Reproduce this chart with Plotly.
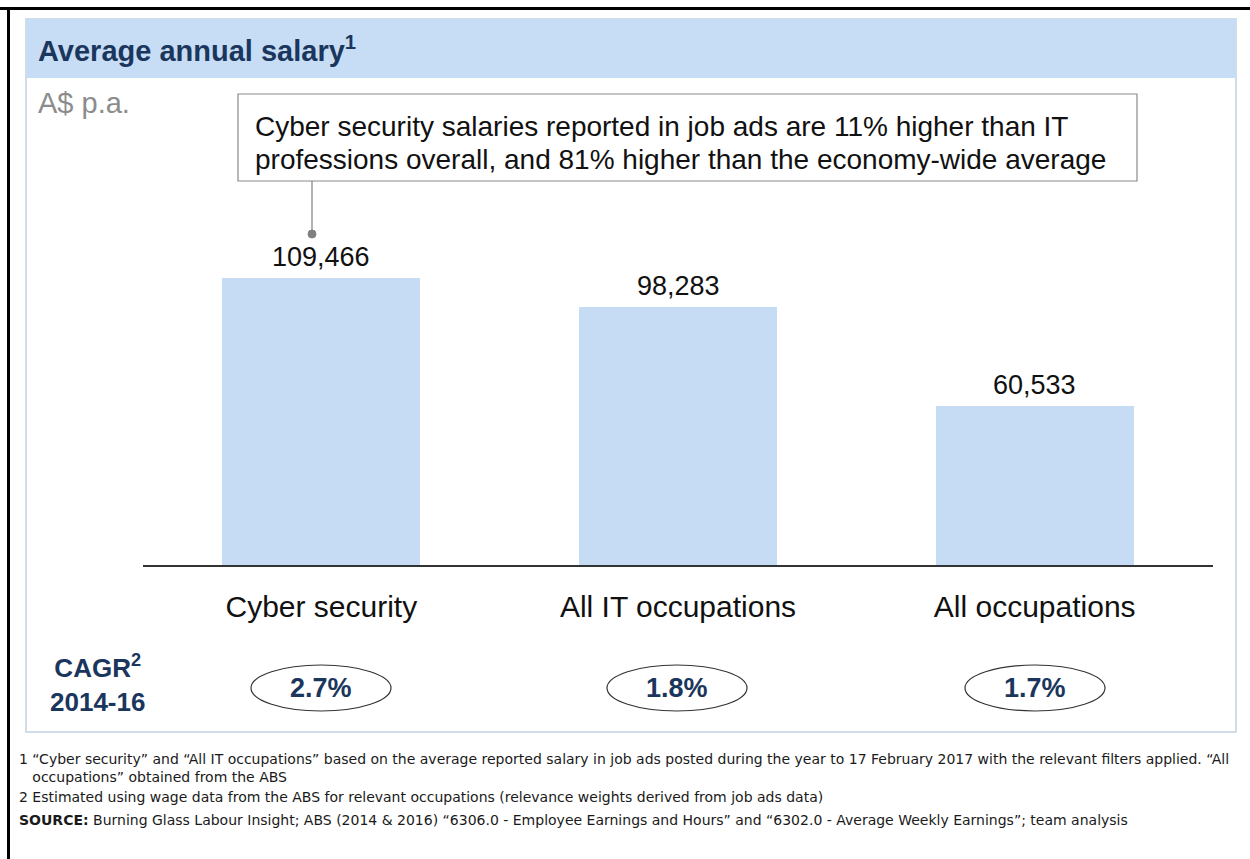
import plotly.graph_objects as go

W, H = 1250, 859

categories = ["Cyber security", "All IT occupations", "All occupations"]
salaries = [109466, 98283, 60533]
cagr_labels = ["2.7%", "1.8%", "1.7%"]

title_text = "Average annual salary<sup>1</sup>"
unit_text = "A$ p.a."
callout_lines = [
    "Cyber security salaries reported in job ads are 11% higher than IT",
    "professions overall, and 81% higher than the economy-wide average",
]
footnotes = [
    "1 \u201cCyber security\u201d and \u201cAll IT occupations\u201d based on the average reported salary in job ads posted during the year to 17 February 2017 with the relevant filters applied. \u201cAll",
    "   occupations\u201d obtained from the ABS",
    "2 Estimated using wage data from the ABS for relevant occupations (relevance weights derived from job ads data)",
    "<b>SOURCE:</b> Burning Glass Labour Insight; ABS (2014 & 2016) \u201c6306.0 - Employee Earnings and Hours\u201d and \u201c6302.0 - Average Weekly Earnings\u201d; team analysis",
]

NAVY = "#1b365d"
BAR = "#c6dcf5"
FONT = "Liberation Sans"
NOTE_FONT = "DejaVu Sans"


def px(x):
    return x / W


def py(y):
    return 1 - y / H


# plot area: baseline at y=565, 0.002622 px per A$
y_max = 120000
base = 565
top = base - y_max * 0.002622

fig = go.Figure()
fig.add_trace(go.Bar(
    x=categories, y=salaries, marker=dict(color=BAR, line=dict(width=0)),
    width=0.555, hoverinfo="skip",
))

annotations = []
shapes = []

# value labels above bars
for c, v in zip(categories, salaries):
    annotations.append(dict(
        x=c, y=v, xref="x", yref="y", text=f"{v:,}", showarrow=False,
        yanchor="bottom", yshift=4, font=dict(family=FONT, size=27, color="#111111"),
    ))

# outer frame (top and left rules)
shapes.append(dict(type="line", xref="paper", yref="paper", x0=px(0), x1=px(W),
                   y0=py(8.5), y1=py(8.5), line=dict(color="black", width=3)))
shapes.append(dict(type="line", xref="paper", yref="paper", x0=px(8.5), x1=px(8.5),
                   y0=py(7), y1=py(H), line=dict(color="black", width=3)))

# panel and header band
shapes.append(dict(type="rect", xref="paper", yref="paper", x0=px(26), x1=px(1236),
                   y0=py(19), y1=py(732), line=dict(color="#d3dde8", width=2),
                   fillcolor="rgba(0,0,0,0)", layer="below"))
shapes.append(dict(type="rect", xref="paper", yref="paper", x0=px(26), x1=px(1236),
                   y0=py(19), y1=py(78), line=dict(width=0), fillcolor="#c6ddf5",
                   layer="below"))

# callout box with leader line
shapes.append(dict(type="rect", xref="paper", yref="paper", x0=px(238), x1=px(1137),
                   y0=py(94), y1=py(181), line=dict(color="#8a8a8a", width=1.2),
                   fillcolor="white"))
shapes.append(dict(type="line", xref="paper", yref="paper", x0=px(312), x1=px(312),
                   y0=py(181), y1=py(233), line=dict(color="#808080", width=1.2)))
shapes.append(dict(type="circle", xref="paper", yref="paper", x0=px(308), x1=px(316),
                   y0=py(230), y1=py(238), line=dict(color="#808080", width=1),
                   fillcolor="#808080"))

for yy, line in zip([126, 160], callout_lines):
    annotations.append(dict(
        x=px(253), y=py(yy), xref="paper", yref="paper", text=line,
        showarrow=False, xanchor="left", yanchor="middle", align="left",
        font=dict(family=FONT, size=28, color="#111111"),
    ))

# header title and unit
annotations.append(dict(
    x=px(36), y=py(49), xref="paper", yref="paper", text=f"<b>{title_text}</b>",
    showarrow=False, xanchor="left", yanchor="middle",
    font=dict(family=FONT, size=29, color=NAVY),
))
annotations.append(dict(
    x=px(36), y=py(103), xref="paper", yref="paper", text=unit_text,
    showarrow=False, xanchor="left", yanchor="middle",
    font=dict(family=FONT, size=29, color="#8c8c8c"),
))

# CAGR row
annotations.append(dict(
    x=px(97), y=py(683), xref="paper", yref="paper",
    text="<b>CAGR<sup>2</sup><br>2014-16</b>", showarrow=False,
    xanchor="center", yanchor="middle", align="center",
    font=dict(family=FONT, size=26, color=NAVY),
))
centers_px = [321, 677, 1035]
for cx, lab in zip(centers_px, cagr_labels):
    shapes.append(dict(type="circle", xref="paper", yref="paper",
                       x0=px(cx - 70), x1=px(cx + 70), y0=py(665), y1=py(711),
                       line=dict(color="#333333", width=1.2)))
    annotations.append(dict(
        x=px(cx), y=py(688), xref="paper", yref="paper", text=f"<b>{lab}</b>",
        showarrow=False, xanchor="center", yanchor="middle",
        font=dict(family=FONT, size=27, color=NAVY),
    ))

# footnotes
for yy, line in zip([759, 777, 797, 820], footnotes):
    annotations.append(dict(
        x=px(17), y=py(yy), xref="paper", yref="paper", text=line,
        showarrow=False, xanchor="left", yanchor="middle",
        font=dict(family=NOTE_FONT, size=14, color="#1a1a1a"),
    ))

fig.update_layout(
    width=W, height=H, margin=dict(l=0, r=0, t=0, b=0),
    paper_bgcolor="white", plot_bgcolor="white", showlegend=False,
    xaxis=dict(domain=[px(143), px(1213)], range=[-0.5, 2.5], type="category",
               showline=True, linecolor="#333333", linewidth=1.5, showgrid=False,
               ticks="", tickfont=dict(family=FONT, size=30, color="#111111"),
               ticklabelstandoff=14, fixedrange=True),
    yaxis=dict(domain=[py(base), py(top)], range=[0, y_max], visible=False,
               fixedrange=True),
    shapes=shapes, annotations=annotations, bargap=0,
)

fig.write_html("out.html")
